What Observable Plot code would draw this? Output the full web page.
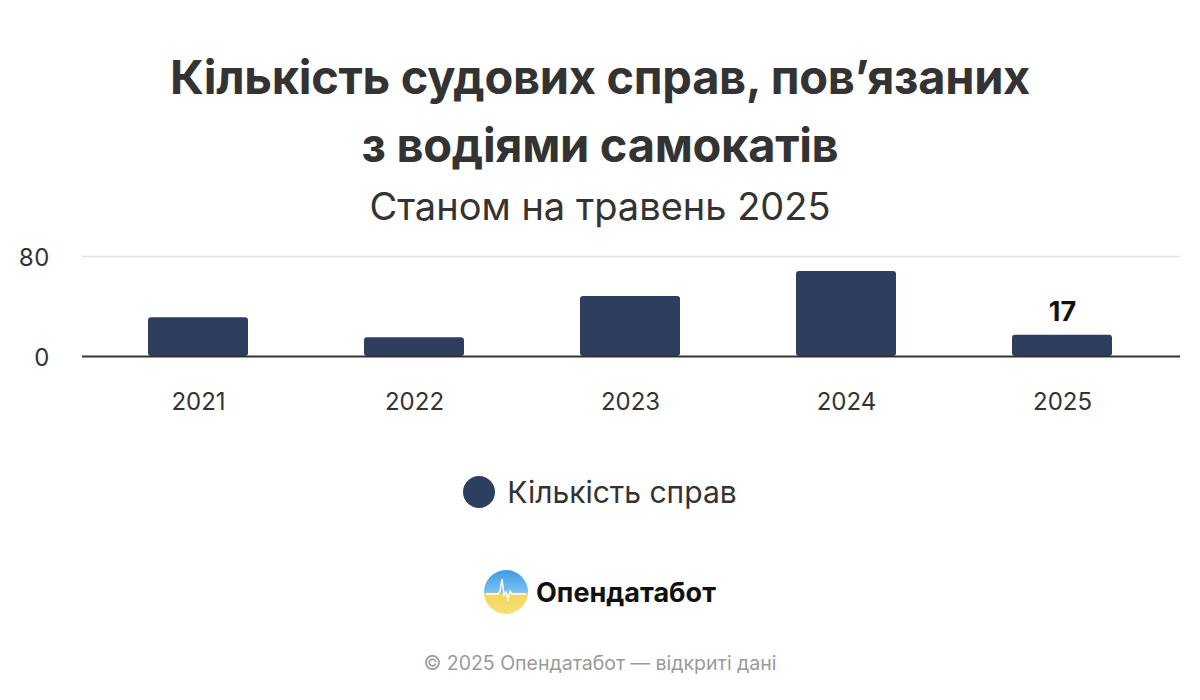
<!DOCTYPE html>
<html>
<head>
<meta charset="utf-8">
<script src="https://cdn.jsdelivr.net/npm/d3@7"></script>
<script src="https://cdn.jsdelivr.net/npm/@observablehq/plot@0.6"></script>
<style>
  html, body { margin:0; padding:0; background:#fff; width:1200px; height:700px; overflow:hidden; font-family: Inter, "Noto Sans", sans-serif; color:#333; }
  .abs { position:absolute; left:0; width:1200px; text-align:center; }
  #title { top:43px; font-size:47px; font-weight:700; line-height:68px; color:#333; letter-spacing:-0.3px; }
  #subtitle { top:183px; font-size:38px; font-weight:400; color:#333; line-height:46px; }
  #chart { position:absolute; top:230px; left:0; }
  #legend { top:470px; font-size:30px; line-height:44px; display:flex; justify-content:center; align-items:center; gap:12px; }
  #legend .dot { width:32px; height:32px; border-radius:50%; background:#2e3e5e; display:inline-block; }
  #logo { top:570px; display:flex; justify-content:center; align-items:center; gap:8px; font-size:27px; font-weight:700; color:#111; }
  #footer { top:650px; font-size:19.5px; color:#9a9a9a; line-height:26px; }
</style>
</head>
<body>
<div id="title" class="abs">Кількість судових справ, пов’язаних<br>з водіями самокатів</div>
<div id="subtitle" class="abs">Станом на травень 2025</div>
<div id="chart"></div>
<div id="legend" class="abs"><span class="dot"></span><span>Кількість справ</span></div>
<div id="logo" class="abs">
  <svg width="44" height="44" viewBox="0 0 44 44">
    <defs>
      <linearGradient id="lg" x1="0" y1="0" x2="0" y2="1">
        <stop offset="0" stop-color="#3d9be9"/>
        <stop offset="0.5" stop-color="#7cc0f0"/>
        <stop offset="0.55" stop-color="#f3d75a"/>
        <stop offset="1" stop-color="#f7e07a"/>
      </linearGradient>
    </defs>
    <circle cx="22" cy="22" r="22" fill="url(#lg)"/>
    <polyline points="2,24 14,24 16,21 18,9 20,25 22,22 24,29 26,21 28,24 42,24" fill="none" stroke="#fff" stroke-width="1.5"/>
  </svg>
  <span>Опендатабот</span>
</div>
<div id="footer" class="abs">© 2025 Опендатабот — відкриті дані</div>
<script>
const years = ["2021", "2022", "2023", "2024", "2025"];
const cases = [31, 15, 48, 68, 17];
const labeledYears = ["2025"];
const yTicks = [0, 80];

const data = years.map((y, i) => ({year: y, value: cases[i]}));
const labels = data.filter(d => labeledYears.includes(d.year));

const chart = Plot.plot({
  width: 1200,
  height: 200,
  marginLeft: 82,
  marginRight: 20,
  marginTop: 26,
  marginBottom: 74,
  style: {fontFamily: "Inter, 'Noto Sans', sans-serif", fontSize: "24px", color: "#333", background: "transparent"},
  x: {domain: years, range: [89, 1171], paddingInner: 0.537, paddingOuter: 0.2685, label: null},
  y: {domain: [0, 80], label: null},
  marks: [
    Plot.ruleY([80], {stroke: "#e3e3e3", strokeWidth: 1.5}),
    Plot.barY(data, {x: "year", y: "value", fill: "#2e3e5e", rx: 3}),
    Plot.ruleY([0], {stroke: "#333", strokeWidth: 2}),
    Plot.text(labels, {x: "year", y: "value", text: d => String(d.value), dy: -23, fontSize: 27, fontWeight: 700, fill: "#111"}),
    Plot.axisY({ticks: yTicks, tickSize: 0, tickPadding: 33, dy: 1.5, label: null, fontSize: 24, fill: "#333"}),
    Plot.axisX({tickSize: 0, tickPadding: 36, label: null, fontSize: 24, fill: "#333"})
  ]
});
document.getElementById("chart").appendChild(chart);
</script>
</body>
</html>
